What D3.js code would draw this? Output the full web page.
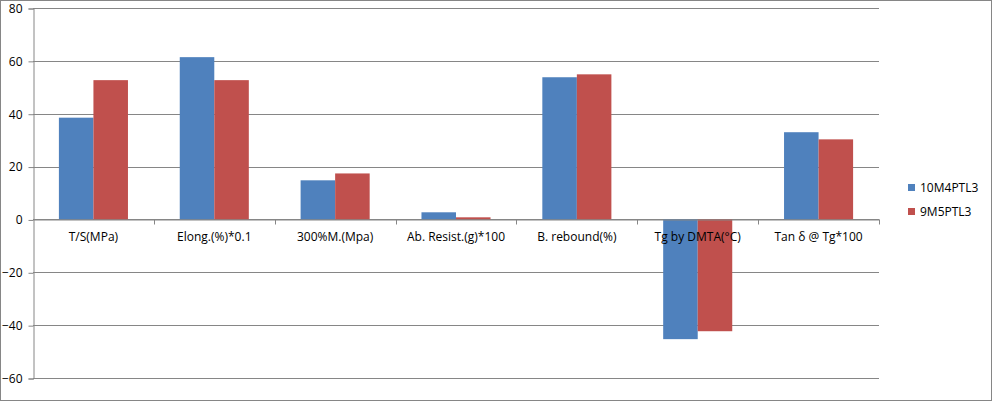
<!DOCTYPE html>
<html><head><meta charset="utf-8">
<script src="https://cdn.jsdelivr.net/npm/d3@7/dist/d3.min.js"></script>
<style>body{margin:0;background:#fff}svg{display:block}text{font-family:"Open Sans","Liberation Sans",sans-serif;fill:#000}</style>
</head><body><svg id="c" width="992" height="401"></svg>
<script>
const categories = ["T/S(MPa)","Elong.(%)*0.1","300%M.(Mpa)","Ab. Resist.(g)*100","B. rebound(%)","Tg by DMTA(°C)","Tan δ @ Tg*100"];
const seriesNames = ["10M4PTL3","9M5PTL3"];
const series1 = [38.5, 61.4, 14.8, 2.7, 53.8, -45.3, 33.0];
const series2 = [52.7, 52.7, 17.4, 0.8, 54.9, -42.3, 30.3];
const yTicks = [80,60,40,20,0,-20,-40,-60];
const colors = ["#4F81BD","#C0504D"];

(function(){
const svg = d3.select("#c");
svg.append("rect").attr("x",0.5).attr("y",0.5).attr("width",991).attr("height",400)
  .attr("fill","#fff").attr("stroke","#868686");

const pL = 33, pR = 879, pT = 8, pB = 378;
const y = d3.scaleLinear().domain([-60,80]).range([pB, pT]);
const x = d3.scaleBand().domain(categories).range([pL, pR]).paddingInner(0).paddingOuter(0);
const bw = x.bandwidth()/3.5;
const xs = d3.scaleBand().domain([0,1]).range([0, 2*bw]);

svg.append("g").selectAll("line").data(yTicks).join("line")
  .attr("x1",pL).attr("x2",pR)
  .attr("y1",d=>Math.round(y(d))+0.5).attr("y2",d=>Math.round(y(d))+0.5)
  .attr("stroke","#868686").attr("stroke-width",1);

const yAxis = d3.axisLeft(y).tickValues(yTicks).tickSize(5).tickPadding(6).tickFormat(d3.format("d"));
const gy = svg.append("g").attr("transform",`translate(${pL+0.5},0.5)`).call(yAxis);
gy.select(".domain").attr("stroke","#868686");
gy.selectAll(".tick line").attr("stroke","#868686");
gy.selectAll("text").style("font-size","12px").attr("fill","#000").attr("font-family","'Open Sans',sans-serif");

const data = [series1, series2];
data.forEach((s,si)=>{
  svg.append("g").selectAll("rect").data(s).join("rect")
    .attr("x",(d,i)=>x(categories[i]) + 0.75*bw + xs(si))
    .attr("width",xs.bandwidth())
    .attr("y",d=>y(Math.max(0,d)))
    .attr("height",d=>Math.abs(y(d)-y(0)))
    .attr("fill",colors[si]);
});

const xAxis = d3.axisBottom(x).tickSize(5).tickSizeOuter(0).tickFormat("");
const gx = svg.append("g").attr("transform",`translate(0,${Math.round(y(0))+0.5})`).call(xAxis);
gx.select(".domain").attr("stroke","#868686");
gx.selectAll(".tick").remove();
const bounds = categories.map(c=>x(c)).concat([pR]).slice(1);
gx.selectAll("line.sep").data(bounds).join("line").attr("class","sep")
  .attr("x1",d=>Math.round(d)+0.5).attr("x2",d=>Math.round(d)+0.5).attr("y1",0).attr("y2",5)
  .attr("stroke","#868686");
svg.append("g").selectAll("text").data(categories).join("text")
  .attr("x",d=>x(d)+x.bandwidth()/2).attr("y",Math.round(y(0))+22)
  .attr("text-anchor","middle").style("font-size","12px").text(d=>d);

const lg = svg.append("g").attr("transform","translate(908,0)");
seriesNames.forEach((n,i)=>{
  const cy = 188 + i*24;
  lg.append("rect").attr("x",0).attr("y",cy-4).attr("width",7).attr("height",7).attr("fill",colors[i]);
  lg.append("text").attr("x",12).attr("y",cy+4).style("font-size","12px").text(n);
});
})();
</script></body></html>
